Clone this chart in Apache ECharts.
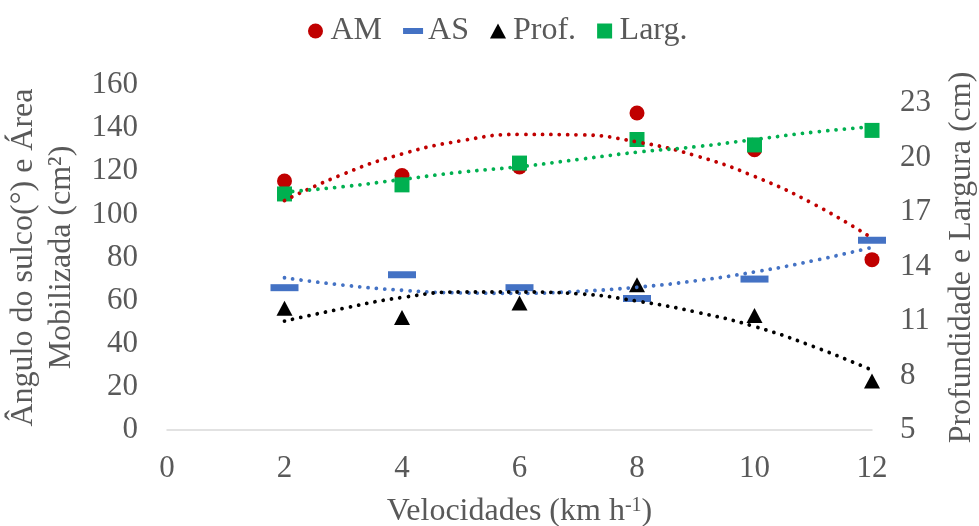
<!DOCTYPE html>
<html>
<head>
<meta charset="utf-8">
<script src="https://cdn.jsdelivr.net/npm/echarts@6/dist/echarts.min.js"></script>
<style>
  html, body { margin: 0; padding: 0; background: #ffffff; }
  #chart { width: 979px; height: 526px; }
</style>
</head>
<body>
<div id="chart"></div>
<script>
// Velocidades de operação (km h-1)
const speeds = [2, 4, 6, 8, 10, 12];

// Eixo esquerdo: área mobilizada (cm²) e ângulo do sulco (°)
const amValues = [115.5, 118, 122, 147, 130, 79];
const asValues = [66, 72, 66, 61, 70, 88];

// Eixo direito: profundidade e largura (cm)
const profValues = [11.7, 11.2, 12.0, 13.0, 11.3, 7.7];
const largValues = [18.0, 18.5, 19.7, 21.0, 20.7, 21.5];

// Linhas de tendência (pontilhadas)
const trendSpeeds = [2, 3, 4, 5, 6, 7, 8, 9, 10, 11, 12];
const amTrend = [106.4, 118.7, 128.0, 134.1, 137.1, 136.9, 133.6, 127.2, 117.6, 104.9, 89.0];
const asTrend = [70.6, 67.2, 64.8, 63.6, 63.4, 64.3, 66.2, 69.2, 73.3, 78.5, 84.7];
const profTrend = [11.0, 11.7, 12.3, 12.6, 12.6, 12.5, 12.1, 11.5, 10.7, 9.6, 8.3];
const largTrend = [18.1, 18.4, 18.8, 19.2, 19.5, 19.9, 20.3, 20.6, 21.0, 21.4, 21.7];

// Rótulos dos eixos
const xTicks = [0, 2, 4, 6, 8, 10, 12];
const leftTicks = [0, 20, 40, 60, 80, 100, 120, 140, 160];
const rightTicks = [5, 8, 11, 14, 17, 20, 23];

const FONT = '"Liberation Serif", "Times New Roman", serif';
const TEXT = '#595959';
const C_AM = '#C00000', C_AS = '#4472C4', C_PROF = '#000000', C_LARG = '#00B050';

const pairs = (xs, ys) => xs.map((x, i) => [x, ys[i]]);

function trend(name, xs, ys, color, axis) {
  return {
    name: name,
    type: 'line',
    yAxisIndex: axis,
    data: pairs(xs, ys),
    smooth: true,
    showSymbol: false,
    silent: true,
    z: 4,
    lineStyle: { color: color, width: 3.8, type: [0.01, 8.4], cap: 'round', opacity: 1 },
    emphasis: { disabled: true }
  };
}

function markers(name, ys, axis, symbol, size, color) {
  return {
    name: name,
    type: 'scatter',
    yAxisIndex: axis,
    data: pairs(speeds, ys),
    symbol: symbol,
    symbolSize: size,
    itemStyle: { color: color, opacity: 1 },
    emphasis: { disabled: true }
  };
}

const chart = echarts.init(document.getElementById('chart'), null, { renderer: 'canvas' });

chart.setOption({
  animation: false,
  backgroundColor: '#ffffff',
  textStyle: { fontFamily: FONT },
  legend: {
    left: 303,
    top: 10,
    itemWidth: 20,
    itemHeight: 15,
    itemGap: 21,
    selectedMode: false,
    textStyle: { fontSize: 32, color: TEXT, fontFamily: FONT },
    data: [
      { name: 'AM', icon: 'circle' },
      { name: 'AS', icon: 'path://M0,0h20v6h-20z' },
      { name: 'Prof.', icon: 'path://M7.5,0L15,14L0,14Z' },
      { name: 'Larg.', icon: 'path://M0,0h15v15h-15z' }
    ]
  },
  grid: { left: 167, right: 107, top: 85, bottom: 96, containLabel: false, outerBoundsMode: 'none' },
  xAxis: {
    type: 'value',
    min: xTicks[0],
    max: xTicks[xTicks.length - 1],
    interval: 2,
    axisLine: { show: true, onZero: false, lineStyle: { color: '#D9D9D9', width: 1.5 } },
    axisTick: { show: false },
    splitLine: { show: false },
    axisLabel: { fontSize: 31, color: TEXT, fontFamily: FONT, margin: 23 },
    name: 'Velocidades (km h{sup|-1})',
    nameLocation: 'middle',
    nameGap: 66,
    nameTextStyle: {
      fontSize: 32, color: TEXT, fontFamily: FONT,
      rich: { sup: { fontSize: 20, color: TEXT, fontFamily: FONT, verticalAlign: 'top' } }
    }
  },
  yAxis: [
    {
      type: 'value',
      min: leftTicks[0],
      max: leftTicks[leftTicks.length - 1],
      interval: 20,
      axisLine: { show: false },
      axisTick: { show: false },
      splitLine: { show: false },
      axisLabel: { fontSize: 31, color: TEXT, fontFamily: FONT, margin: 29 },
      name: 'Ângulo do sulco(°) e Área\nMobilizada (cm²)',
      nameLocation: 'middle',
      nameRotate: 90,
      nameGap: 80,
      nameTextStyle: { fontSize: 32, lineHeight: 38, color: TEXT, fontFamily: FONT, align: 'center' }
    },
    {
      type: 'value',
      position: 'right',
      min: 5,
      max: 24,
      interval: 1,
      axisLine: { show: false },
      axisTick: { show: false },
      splitLine: { show: false },
      axisLabel: {
        fontSize: 31, color: TEXT, fontFamily: FONT, margin: 28,
        formatter: v => (rightTicks.indexOf(v) >= 0 ? String(v) : '')
      },
      name: 'Profundidade e Largura (cm)',
      nameLocation: 'middle',
      nameRotate: 90,
      nameGap: 74,
      nameTextStyle: { fontSize: 32, color: TEXT, fontFamily: FONT }
    }
  ],
  series: [
    markers('AM', amValues, 0, 'circle', 15, C_AM),
    markers('AS', asValues, 0, 'rect', [28, 7], C_AS),
    markers('Prof.', profValues, 1, 'triangle', [16, 15], C_PROF),
    markers('Larg.', largValues, 1, 'rect', 15, C_LARG),
    trend('Tendência AM', trendSpeeds, amTrend, C_AM, 0),
    trend('Tendência AS', trendSpeeds, asTrend, C_AS, 0),
    trend('Tendência Prof.', trendSpeeds, profTrend, C_PROF, 1),
    trend('Tendência Larg.', trendSpeeds, largTrend, C_LARG, 1)
  ]
});
</script>
</body>
</html>
